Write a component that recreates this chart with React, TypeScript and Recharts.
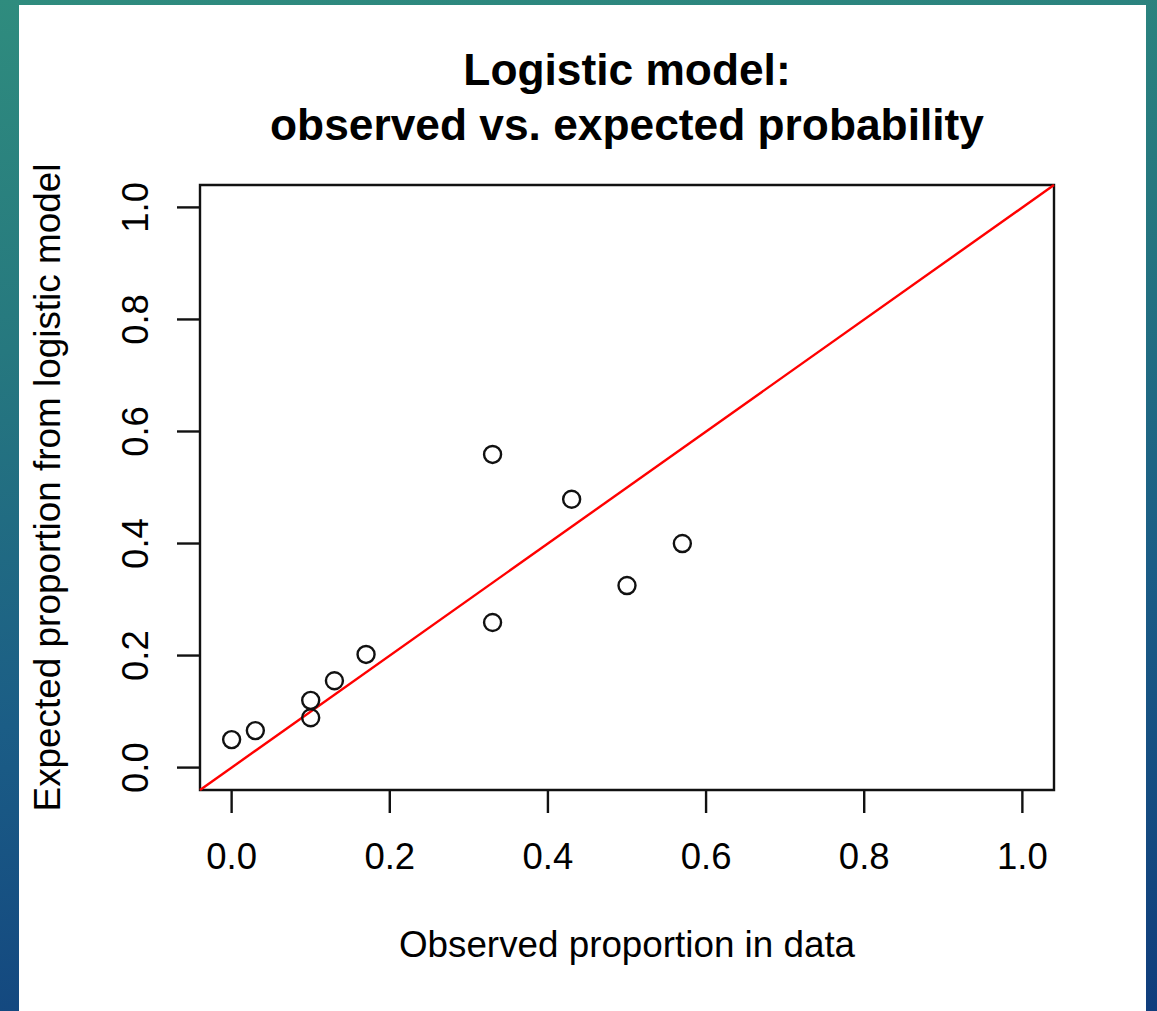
import React from "react";
import {
  ScatterChart,
  Scatter,
  XAxis,
  YAxis,
  ReferenceLine,
  ReferenceArea,
  Label,
} from "recharts";

const observed = [0.0, 0.03, 0.1, 0.1, 0.13, 0.17, 0.33, 0.33, 0.43, 0.5, 0.57];
const expected = [0.05, 0.066, 0.12, 0.089, 0.155, 0.202, 0.559, 0.259, 0.479, 0.325, 0.4];
const axisTicks = [0, 0.2, 0.4, 0.6, 0.8, 1.0];
const domainMin = -0.04;
const domainMax = 1.04;
const ablineIntercept = 0;
const ablineSlope = 1;

const titleLines = ["Logistic model:", "observed vs. expected probability"];
const xLabel = "Observed proportion in data";
const yLabel = "Expected proportion from logistic model";

const points = observed.map((x, i) => ({ x, y: expected[i] }));

const FONT = '"Liberation Sans", Arial, Helvetica, sans-serif';

const XTick = (props: any) => {
  const { x, y, payload } = props;
  return (
    <text x={x} y={y} textAnchor="middle" fontFamily={FONT} fontSize={36.5} fill="#000">
      {Number(payload.value).toFixed(1)}
    </text>
  );
};

const YTick = (props: any) => {
  const { x, y, payload } = props;
  return (
    <text
      x={x}
      y={y}
      transform={`rotate(-90, ${x}, ${y})`}
      textAnchor="middle"
      fontFamily={FONT}
      fontSize={36.5}
      fill="#000"
    >
      {Number(payload.value).toFixed(1)}
    </text>
  );
};

const OpenCircle = (props: any) => {
  const { cx, cy } = props;
  return <circle cx={cx} cy={cy} r={8.5} fill="none" stroke="#111" strokeWidth={2.4} />;
};

export default function App() {
  return (
    <div
      style={{
        position: "fixed",
        left: 0,
        top: 0,
        width: 1157,
        height: 1011,
        overflow: "hidden",
        background:
          "linear-gradient(172deg, #2f8c7e 0%, #26787f 30%, #1b5d86 62%, #103d7c 100%)",
      }}
    >
      <div
        style={{
          position: "absolute",
          left: 19,
          top: 5,
          width: 1127,
          height: 1006,
          background: "#fff",
        }}
      />
      <svg
        width={1157}
        height={160}
        style={{ position: "absolute", left: 0, top: 0 }}
      >
        {titleLines.map((t, i) => (
          <text
            key={i}
            x={627}
            y={85 + i * 55}
            textAnchor="middle"
            fontFamily={FONT}
            fontWeight="bold"
            fontSize={44.3}
            fill="#000"
          >
            {t}
          </text>
        ))}
      </svg>
      <div style={{ position: "absolute", left: 0, top: 0 }}>
        <ScatterChart
          width={1157}
          height={1011}
          margin={{ top: 185, right: 103, left: 0, bottom: 0 }}
        >
          <XAxis
            type="number"
            dataKey="x"
            domain={[domainMin, domainMax]}
            ticks={axisTicks}
            allowDataOverflow
            axisLine={false}
            tickLine={{ stroke: "#111", strokeWidth: 2.4 }}
            tickSize={23}
            tickMargin={56}
            tick={<XTick />}
            height={221}
            interval={0}
          >
            <Label
              content={(p: any) => {
                const vb = p.viewBox;
                return (
                  <text
                    x={vb.x + vb.width / 2}
                    y={vb.y + 167}
                    textAnchor="middle"
                    fontFamily={FONT}
                    fontSize={36.8}
                    fill="#000"
                  >
                    {xLabel}
                  </text>
                );
              }}
            />
          </XAxis>
          <YAxis
            type="number"
            dataKey="y"
            domain={[domainMin, domainMax]}
            ticks={axisTicks}
            allowDataOverflow
            axisLine={false}
            tickLine={{ stroke: "#111", strokeWidth: 2.4 }}
            tickSize={23}
            tickMargin={29}
            tick={<YTick />}
            width={200}
            interval={0}
          >
            <Label
              content={(p: any) => {
                const vb = p.viewBox;
                const cx = 60;
                const cy = vb.y + vb.height / 2;
                return (
                  <text
                    x={cx}
                    y={cy}
                    transform={`rotate(-90, ${cx}, ${cy})`}
                    textAnchor="middle"
                    fontFamily={FONT}
                    fontSize={36.9}
                    fill="#000"
                  >
                    {yLabel}
                  </text>
                );
              }}
            />
          </YAxis>
          <ReferenceLine
            segment={[
              { x: domainMin, y: ablineIntercept + ablineSlope * domainMin },
              { x: domainMax, y: ablineIntercept + ablineSlope * domainMax },
            ]}
            stroke="#ff0000"
            strokeWidth={2.4}
            ifOverflow="visible"
          />
          <ReferenceArea
            x1={domainMin}
            x2={domainMax}
            y1={domainMin}
            y2={domainMax}
            fill="none"
            fillOpacity={0}
            stroke="#111"
            strokeWidth={2.4}
            ifOverflow="visible"
          />
          <Scatter
            data={points}
            shape={<OpenCircle />}
            isAnimationActive={false}
          />
        </ScatterChart>
      </div>
    </div>
  );
}
